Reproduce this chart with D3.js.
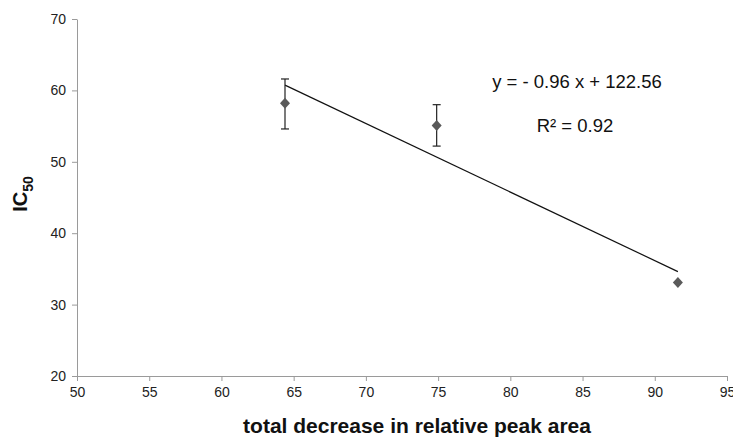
<!DOCTYPE html>
<html>
<head>
<meta charset="utf-8">
<script src="https://cdn.jsdelivr.net/npm/d3@7"></script>
<style>
  body { margin: 0; background: #fff; }
  text { font-family: "Liberation Sans", Arial, sans-serif; }
</style>
</head>
<body>
<div id="chart"></div>
<script>
// values
var peakDecrease = [64.4, 74.9, 91.6]
var ic50 = [58.2, 55.1, 33.1]
var errUp = [3.4, 2.9, 0]
var errDown = [3.6, 2.9, 0]
var xTicks = [50, 55, 60, 65, 70, 75, 80, 85, 90, 95]
var yTicks = [20, 30, 40, 50, 60, 70]
var slope = -0.96
var intercept = 122.56
var equation = "y = - 0.96 x + 122.56"
var rSquared = "R² = 0.92"

var svg = d3.select("#chart")
	.append("svg")
	.attr("width", 733)
	.attr("height", 441)

const xScale = d3.scaleLinear().domain([50, 95]).range([77, 727])
const yScale = d3.scaleLinear().domain([20, 70]).range([376, 19])

const axisColor = "#9a9a9a"

var gX = svg.append("g")
	.attr("transform", `translate(0,${yScale(20)})`)
	.call(d3.axisBottom(xScale).tickValues(xTicks).tickSize(5).tickSizeOuter(0).tickPadding(6))
gX.select(".domain").attr("stroke", axisColor)
gX.selectAll(".tick line").attr("stroke", axisColor)
gX.selectAll(".tick text")
	.style("font-size", "14px")
	.style("fill", "#222")
	.style("font-family", "Liberation Sans, Arial, sans-serif")

var gY = svg.append("g")
	.attr("transform", `translate(${xScale(50)},0)`)
	.call(d3.axisLeft(yScale).tickValues(yTicks).tickSize(5).tickSizeOuter(0).tickPadding(6))
gY.select(".domain").attr("stroke", axisColor)
gY.selectAll(".tick line").attr("stroke", axisColor)
gY.selectAll(".tick text")
	.style("font-size", "14px")
	.style("fill", "#222")
	.style("font-family", "Liberation Sans, Arial, sans-serif")

// axis titles
svg.append("text")
	.attr("x", 417)
	.attr("y", 433)
	.attr("text-anchor", "middle")
	.style("font-size", "21px")
	.style("font-weight", "bold")
	.style("fill", "#111")
	.text("total decrease in relative peak area")

var yt = svg.append("text")
	.attr("transform", "translate(27,194) rotate(-90)")
	.attr("text-anchor", "middle")
	.style("font-size", "20px")
	.style("font-weight", "bold")
	.style("fill", "#111")
yt.append("tspan").text("IC")
yt.append("tspan").attr("dy", 6).style("font-size", "14px").text("50")

// trendline over the data range
var xMin = d3.min(peakDecrease), xMax = d3.max(peakDecrease)
svg.append("line")
	.attr("x1", xScale(xMin))
	.attr("y1", yScale(slope * xMin + intercept))
	.attr("x2", xScale(xMax))
	.attr("y2", yScale(slope * xMax + intercept))
	.attr("stroke", "#111")
	.attr("stroke-width", 1.2)

var pts = peakDecrease.map((d, i) => ({x: d, y: ic50[i], up: errUp[i], down: errDown[i]}))

// error bars
var eb = svg.append("g").selectAll("g")
	.data(pts.filter(d => d.up > 0 || d.down > 0))
	.enter()
	.append("g")
	.attr("stroke", "#222")
	.attr("stroke-width", 1.2)
eb.append("line")
	.attr("x1", d => xScale(d.x)).attr("x2", d => xScale(d.x))
	.attr("y1", d => yScale(d.y + d.up)).attr("y2", d => yScale(d.y - d.down))
eb.append("line")
	.attr("x1", d => xScale(d.x) - 4).attr("x2", d => xScale(d.x) + 4)
	.attr("y1", d => yScale(d.y + d.up)).attr("y2", d => yScale(d.y + d.up))
eb.append("line")
	.attr("x1", d => xScale(d.x) - 4).attr("x2", d => xScale(d.x) + 4)
	.attr("y1", d => yScale(d.y - d.down)).attr("y2", d => yScale(d.y - d.down))

// diamond markers
svg.append("g").selectAll("path")
	.data(pts)
	.enter()
	.append("path")
	.attr("d", "M0,-5.5L5,0L0,5.5L-5,0Z")
	.attr("transform", d => `translate(${xScale(d.x)},${yScale(d.y)})`)
	.attr("fill", "#5a5a5a")

// regression labels
svg.append("text")
	.attr("x", 577)
	.attr("y", 88)
	.attr("text-anchor", "middle")
	.style("font-size", "18.5px")
	.style("fill", "#111")
	.text(equation)

svg.append("text")
	.attr("x", 575)
	.attr("y", 132)
	.attr("text-anchor", "middle")
	.style("font-size", "18.5px")
	.style("fill", "#111")
	.text(rSquared)
</script>
</body>
</html>
